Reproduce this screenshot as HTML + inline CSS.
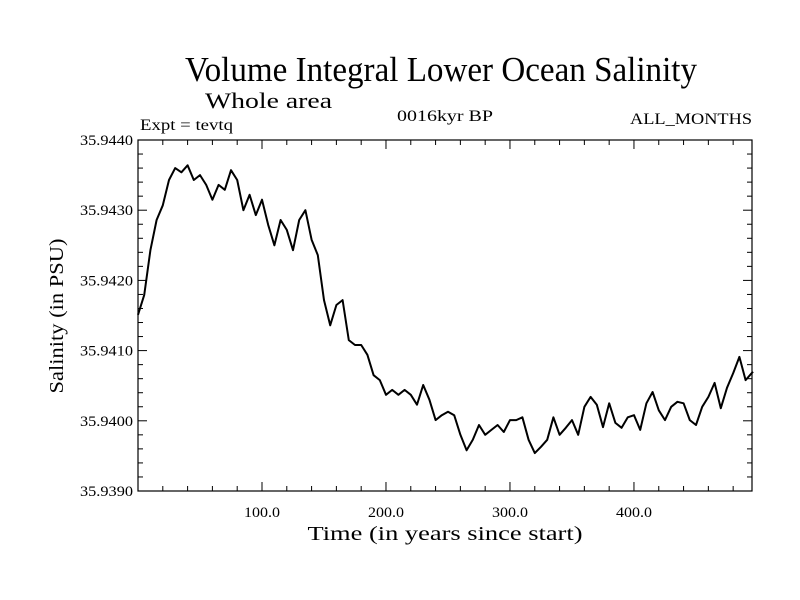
<!DOCTYPE html>
<html><head><meta charset="utf-8"><style>
body{margin:0;background:#fff}
svg{display:block}
svg text{font-family:"Liberation Serif","Times New Roman",serif}
</style></head><body>
<svg id="chart" width="800" height="600">
<rect x="0" y="0" width="800" height="600" fill="#fff"/>
<text x="441" y="81" font-size="35" text-anchor="middle" textLength="512" lengthAdjust="spacingAndGlyphs">Volume Integral Lower Ocean Salinity</text>
<text x="205" y="108" font-size="22" textLength="127" lengthAdjust="spacingAndGlyphs">Whole area</text>
<text x="140" y="130" font-size="16" textLength="93" lengthAdjust="spacingAndGlyphs">Expt = tevtq</text>
<text x="445" y="121" font-size="16" text-anchor="middle" textLength="96" lengthAdjust="spacingAndGlyphs">0016kyr BP</text>
<text x="752" y="124" font-size="16" text-anchor="end" textLength="122" lengthAdjust="spacingAndGlyphs">ALL_MONTHS</text>
<text x="445" y="540" font-size="20" text-anchor="middle" textLength="275" lengthAdjust="spacingAndGlyphs">Time (in years since start)</text>
<text x="0" y="0" font-size="20" text-anchor="middle" transform="translate(63,316) rotate(-90)" textLength="155" lengthAdjust="spacingAndGlyphs">Salinity (in PSU)</text>
<g id="ticks"></g>
<path id="line" fill="none" stroke="#000" stroke-width="2" stroke-linejoin="round"/>
<rect x="138" y="140" width="614" height="351" fill="none" stroke="#000" stroke-width="1.2"/>
</svg>
<script>
const years=[0,5,10,15,20,25,30,35,40,45,50,55,60,65,70,75,80,85,90,95,100,105,110,115,120,125,130,135,140,145,150,155,160,165,170,175,180,185,190,195,200,205,210,215,220,225,230,235,240,245,250,255,260,265,270,275,280,285,290,295,300,305,310,315,320,325,330,335,340,345,350,355,360,365,370,375,380,385,390,395,400,405,410,415,420,425,430,435,440,445,450,455,460,465,470,475,480,485,490,496];
const salinity=[35.94151,35.94179,35.94243,35.94286,35.94307,35.94343,35.94360,35.94354,35.94364,35.94343,35.94350,35.94336,35.94315,35.94336,35.94329,35.94357,35.94343,35.94300,35.94322,35.94293,35.94315,35.94279,35.94250,35.94286,35.94272,35.94243,35.94286,35.94300,35.94258,35.94236,35.94172,35.94136,35.94165,35.94172,35.94115,35.94108,35.94108,35.94094,35.94065,35.94058,35.94037,35.94044,35.94037,35.94044,35.94037,35.94023,35.94051,35.94030,35.94001,35.94008,35.94013,35.94008,35.93980,35.93958,35.93973,35.93994,35.93980,35.93987,35.93994,35.93984,35.94001,35.94001,35.94005,35.93973,35.93954,35.93963,35.93973,35.94005,35.93980,35.93990,35.94001,35.93980,35.94020,35.94034,35.94023,35.93991,35.94025,35.93997,35.93990,35.94005,35.94008,35.93987,35.94025,35.94041,35.94015,35.94001,35.94020,35.94027,35.94025,35.94001,35.93994,35.94020,35.94034,35.94054,35.94018,35.94047,35.94068,35.94091,35.94058,35.94070];
const xTicks=[100,200,300,400];
const xTickLabels=["100.0","200.0","300.0","400.0"];
const yTicks=[35.939,35.940,35.941,35.942,35.943,35.944];
const yTickLabels=["35.9390","35.9400","35.9410","35.9420","35.9430","35.9440"];
const L=138,R=752,T=140,B=491,X0=0,X1=495.2,Y0=35.939,Y1=35.944;
const sx=v=>L+(v-X0)/(X1-X0)*(R-L);
const sy=v=>B-(v-Y0)/(Y1-Y0)*(B-T);
const NS="http://www.w3.org/2000/svg";
const g=document.getElementById('ticks');
function ln(x1,y1,x2,y2,name){const e=document.createElementNS(NS,'line');e.setAttribute('x1',x1);e.setAttribute('y1',y1);e.setAttribute('x2',x2);e.setAttribute('y2',y2);e.setAttribute('stroke','#000');e.setAttribute('stroke-width','1');


g.appendChild(e);}
function tx(x,y,s,anchor,w,name){const e=document.createElementNS(NS,'text');e.setAttribute('x',x);e.setAttribute('y',y);e.setAttribute('font-size','15');e.setAttribute('text-anchor',anchor);e.setAttribute('textLength',w);e.setAttribute('lengthAdjust','spacingAndGlyphs');e.textContent=s;


g.appendChild(e);}
for(let v=20;v<X1;v+=20){const x=sx(v);const major=v%100===0;const len=major?9:5;ln(x,B,x,B-len,'x-tick');ln(x,T,x,T+len,'x-tick-top');}
xTicks.forEach((v,i)=>tx(sx(v),517,xTickLabels[i],'middle',36,'x-tick-label'));
for(let k=0;k<=25;k++){const v=Y0+k*0.0002;const y=sy(v);const major=k%5===0;const len=major?9:5;ln(L,y,L+len,y,'y-tick');ln(R,y,R-len,y,'y-tick-right');}
yTicks.forEach((v,i)=>tx(133,sy(v)+5,yTickLabels[i],'end',53,'y-tick-label'));
let d='';years.forEach((t,i)=>{d+=(i?'L':'M')+sx(t).toFixed(1)+','+sy(salinity[i]).toFixed(1);});
document.getElementById('line').setAttribute('d',d);
</script>
</body></html>
